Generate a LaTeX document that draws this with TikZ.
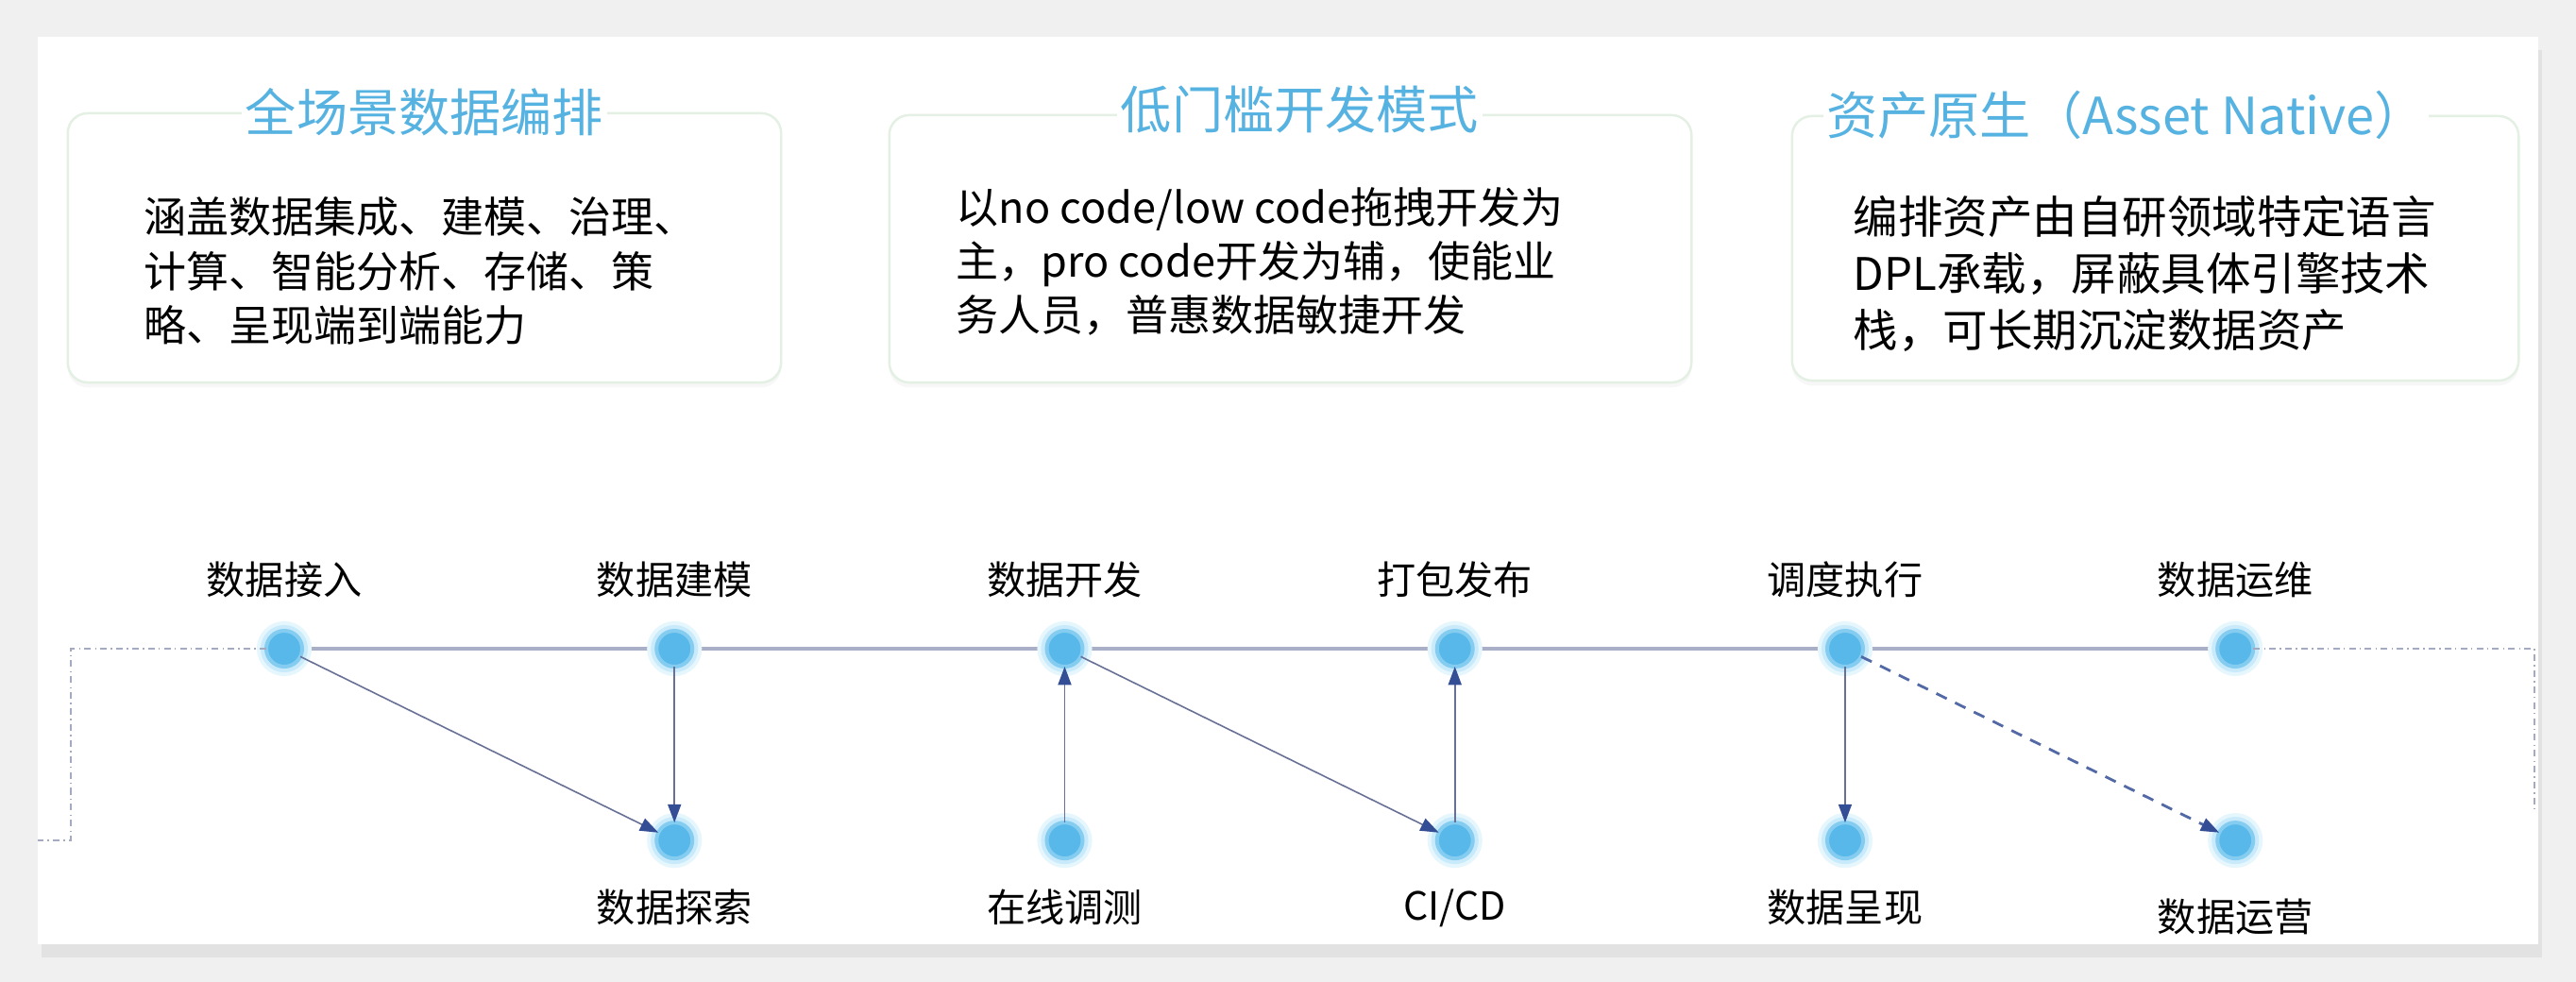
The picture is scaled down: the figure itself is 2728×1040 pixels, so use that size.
\documentclass[tikz,border=0pt]{standalone}
\usepackage{fontspec}
\setmainfont{Noto Sans CJK SC}
\usepackage{tikz}
\usetikzlibrary{arrows.meta,backgrounds,positioning,shadows}

\definecolor{pagegray}{RGB}{240,240,241}
\definecolor{titleblue}{RGB}{86,178,224}
\definecolor{dotblue}{RGB}{88,184,234}
\definecolor{glowblue}{RGB}{200,234,251}
\definecolor{railgray}{RGB}{168,175,198}
\definecolor{arrowgray}{RGB}{104,112,150}
\definecolor{tipblue}{RGB}{52,78,150}
\definecolor{dotgray}{RGB}{165,170,195}
\definecolor{cardline}{RGB}{228,240,228}

\tikzset{
  card/.style={draw=cardline, line width=0.7pt, fill=white, rounded corners=6pt, inner sep=0pt,
    drop shadow={opacity=0.06, shadow xshift=0pt, shadow yshift=-1.5pt}},
  cardtitle/.style={text=titleblue, fill=white, inner sep=1pt, font=\fontsize{15.4}{18}\selectfont},
  cardtext/.style={align=left, anchor=west, inner sep=0pt, font=\fontsize{12.8}{16.3}\selectfont},
  dot/.style={circle, minimum size=0.38cm, inner sep=0pt, outer sep=0pt, fill=dotblue,
    draw=glowblue!40!dotblue, line width=0.04cm,
    preaction={draw=glowblue!45!white, line width=0.2cm},
    preaction={draw=glowblue, line width=0.12cm}},
  steplabel/.style={inner sep=0pt, font=\fontsize{11.7}{14}\selectfont},
  rail/.style={draw=railgray, line width=0.9pt},
  flow/.style={draw=arrowgray, line width=0.45pt, -{Triangle[length=5.5pt,width=4pt,color=tipblue]}},
  dashflow/.style={flow, draw=tipblue!85, line width=0.8pt, dash pattern=on 3.5pt off 2.8pt},
  border/.style={draw=dotgray, line width=0.4pt, dash pattern=on 2pt off 1.2pt on 0.4pt off 1.2pt}
}

\begin{document}
\begin{tikzpicture}[x=0.01cm, y=-0.01cm, node distance=3.75cm]
\useasboundingbox (0,0) rectangle (2728,1040);
\begin{scope}[on background layer]
\fill[pagegray] (0,0) rectangle (2728,1040);
\fill[white, drop shadow={opacity=0.12, shadow xshift=1pt, shadow yshift=-4pt}] (40,39) rectangle (2688,1000);
\end{scope}

\node[card, minimum width=7.55cm, minimum height=2.85cm] (c1) at (449.5,262.5) {};
\node[card, minimum width=8.49cm, minimum height=2.83cm] (c2) at (1366.5,263.5) {};
\node[card, minimum width=7.69cm, minimum height=2.80cm] (c3) at (2282.5,263) {};

\node[cardtitle] (t1) at (c1.north) {全场景数据编排};
\node[cardtitle, xshift=0.1cm, yshift=0.05cm] (t2) at (c2.north) {低门槛开发模式};
\node[cardtitle, xshift=-0.31cm] (t3) at (c3.north) {资产原生（Asset Native）};

\node[cardtext] (b1) at (152,287) {涵盖数据集成、建模、治理、\\计算、智能分析、存储、策\\略、呈现端到端能力};
\node[cardtext] (b2) at (1012,277) {以no code/low code拖拽开发为\\主，pro code开发为辅，使能业\\务人员，普惠数据敏捷开发};
\node[cardtext, font=\fontsize{13.5}{17}\selectfont] (b3) at (1962,290) {编排资产由自研领域特定语言\\DPL承载，屏蔽具体引擎技术\\栈，可长期沉淀数据资产};

\node[dot] (ingest) at (301,687) {};
\node[dot, right=of ingest] (model) {};
\node[dot, right=of model] (develop) {};
\node[dot, right=of develop] (publish) {};
\node[dot, right=of publish] (schedule) {};
\node[dot, right=of schedule] (ops) {};
\node[dot, below=1.65cm of model] (explore) {};
\node[dot, below=1.65cm of develop] (debug) {};
\node[dot, below=1.65cm of publish] (cicd) {};
\node[dot, below=1.65cm of schedule] (present) {};
\node[dot, below=1.65cm of ops] (operate) {};

\node[steplabel, above=0.53cm of ingest.center] (l-ingest) {数据接入};
\node[steplabel, above=0.53cm of model.center] (l-model) {数据建模};
\node[steplabel, above=0.53cm of develop.center] (l-develop) {数据开发};
\node[steplabel, above=0.53cm of publish.center] (l-publish) {打包发布};
\node[steplabel, above=0.53cm of schedule.center] (l-schedule) {调度执行};
\node[steplabel, above=0.53cm of ops.center] (l-ops) {数据运维};
\node[steplabel, below=0.51cm of explore.center] (l-explore) {数据探索};
\node[steplabel, below=0.51cm of debug.center] (l-debug) {在线调测};
\node[steplabel, below=0.51cm of cicd.center] (l-cicd) {CI/CD};
\node[steplabel, below=0.51cm of present.center] (l-present) {数据呈现};
\node[steplabel, below=0.61cm of operate.center] (l-operate) {数据运营};

\begin{scope}[on background layer]
\draw[rail] (ingest) -- (ops);
\end{scope}

\coordinate (lefttop) at (75,687);
\coordinate (leftbot) at (75,890);
\coordinate (leftend) at (40,890);
\coordinate (righttop) at (2684,687);
\coordinate (rightbot) at (2684,857);
\draw[border] (ingest) -- (lefttop) -- (leftbot) -- (leftend);
\draw[border] (ops) -- (righttop) -- (rightbot);

\draw[flow] (ingest) -- (explore);
\draw[flow] (model) -- (explore);
\draw[flow] (debug) -- (develop);
\draw[flow] (develop) -- (cicd);
\draw[flow] (cicd) -- (publish);
\draw[flow] (schedule) -- (present);
\draw[dashflow] (schedule) -- (operate);
\end{tikzpicture}
\end{document}
